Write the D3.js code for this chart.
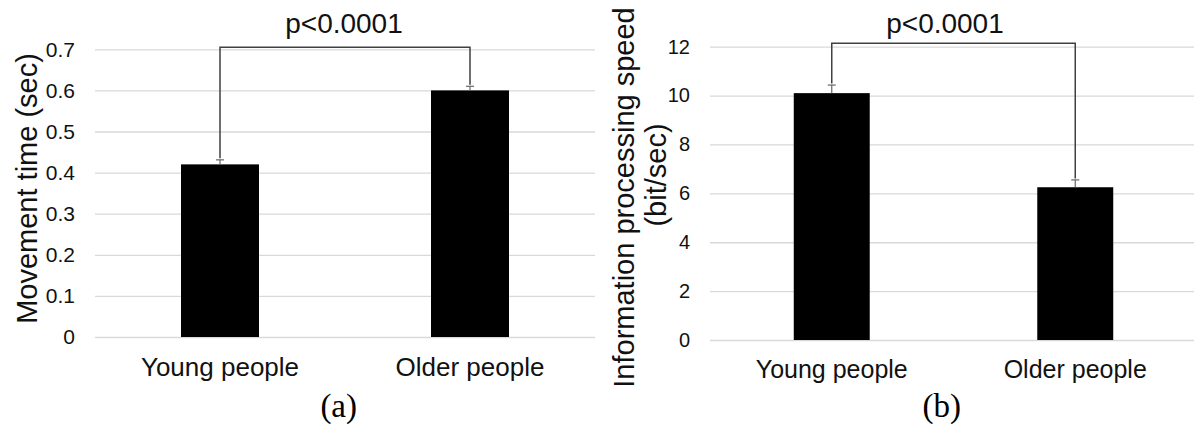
<!DOCTYPE html>
<html>
<head>
<meta charset="utf-8">
<script src="https://cdn.jsdelivr.net/npm/d3@7/dist/d3.min.js"></script>
<style>
  html, body { margin: 0; padding: 0; background: #fff; }
  svg { display: block; }
</style>
</head>
<body>
<svg id="chart" width="1194" height="433"></svg>
<script>
// Group labels shared by both panels
const categories = ["Young people", "Older people"];

// Panel (a): movement time, mean and upper error (sec)
const movementTime = [0.42, 0.60];
const movementTimeErr = [0.011, 0.010];
const movementTicks = [0, 0.1, 0.2, 0.3, 0.4, 0.5, 0.6, 0.7];
const movementTickLabels = ["0", "0.1", "0.2", "0.3", "0.4", "0.5", "0.6", "0.7"];

// Panel (b): information processing speed, mean and upper error (bit/sec)
const speedValues = [10.1, 6.25];
const speedErr = [0.33, 0.30];
const speedTicks = [0, 2, 4, 6, 8, 10, 12];
const speedTickLabels = ["0", "2", "4", "6", "8", "10", "12"];

const pLabel = "p<0.0001";
const captions = ["(a)", "(b)"];

const SANS = "'Liberation Sans', Arial, sans-serif";
const SERIF = "'Liberation Serif', 'Times New Roman', serif";

const svg = d3.select("#chart");

function drawPanel(cfg) {
  const g = svg.append("g");

  const x = d3.scaleBand().domain(categories).range([cfg.left, cfg.right]).padding(0);
  const y = d3.scaleLinear().domain(cfg.domain).range([cfg.bottom, cfg.top]);
  const barW = x.bandwidth() * 0.312;
  const cx = c => x(c) + x.bandwidth() / 2;

  // Value axis with horizontal gridlines
  const yAxis = d3.axisLeft(y)
    .tickValues(cfg.ticks)
    .tickFormat((d, i) => cfg.tickLabels[i])
    .tickSize(-(cfg.right - cfg.left))
    .tickPadding(cfg.tickPad);
  const ya = g.append("g")
    .attr("transform", `translate(${cfg.left},0)`)
    .call(yAxis);
  ya.select(".domain").remove();
  ya.selectAll(".tick line").attr("stroke", "#d9d9d9").attr("stroke-width", 1.3);
  ya.selectAll(".tick text")
    .attr("fill", "#111")
    .style("font-family", SANS)
    .style("font-size", cfg.tickFont + "px");

  // Category axis
  const xAxis = d3.axisBottom(x).tickSize(0).tickPadding(cfg.catPad);
  const xa = g.append("g")
    .attr("transform", `translate(0,${cfg.bottom})`)
    .call(xAxis);
  xa.select(".domain").remove();
  xa.selectAll(".tick text")
    .attr("fill", "#111")
    .style("font-family", SANS)
    .style("font-size", cfg.catFont + "px");

  // Bars
  g.selectAll("rect.bar")
    .data(cfg.values)
    .join("rect")
    .attr("class", "bar")
    .attr("x", (d, i) => cx(categories[i]) - barW / 2)
    .attr("width", barW)
    .attr("y", d => y(d))
    .attr("height", d => y(0) - y(d))
    .attr("fill", "#000");

  // Upper error bars
  const errTop = cfg.values.map((v, i) => v + cfg.errors[i]);
  const eb = g.selectAll("g.err")
    .data(cfg.values)
    .join("g")
    .attr("class", "err");
  eb.append("line")
    .attr("x1", (d, i) => cx(categories[i]))
    .attr("x2", (d, i) => cx(categories[i]))
    .attr("y1", d => y(d))
    .attr("y2", (d, i) => y(errTop[i]))
    .attr("stroke", "#666").attr("stroke-width", 1.2);
  eb.append("line")
    .attr("x1", (d, i) => cx(categories[i]) - 4)
    .attr("x2", (d, i) => cx(categories[i]) + 4)
    .attr("y1", (d, i) => y(errTop[i]))
    .attr("y2", (d, i) => y(errTop[i]))
    .attr("stroke", "#666").attr("stroke-width", 1.2);

  // Significance bracket joining the two error caps
  const bx0 = cx(categories[0]), bx1 = cx(categories[1]);
  const bracket = d3.path();
  bracket.moveTo(bx0, y(errTop[0]) - 1.5);
  bracket.lineTo(bx0, cfg.bracketY);
  bracket.lineTo(bx1, cfg.bracketY);
  bracket.lineTo(bx1, y(errTop[1]) - 1.5);
  g.append("path")
    .attr("d", bracket.toString())
    .attr("fill", "none")
    .attr("stroke", "#404040")
    .attr("stroke-width", 1.5);

  g.append("text")
    .attr("x", cfg.pX)
    .attr("y", 33)
    .attr("text-anchor", "middle")
    .attr("fill", "#111")
    .style("font-family", SANS)
    .style("font-size", "28px")
    .text(pLabel);

  // Axis title (one or more lines)
  cfg.titleLines.forEach(t => {
    g.append("text")
      .attr("transform", `translate(${t.x},${t.y}) rotate(-90)`)
      .attr("text-anchor", "middle")
      .attr("fill", "#111")
      .style("font-family", SANS)
      .style("font-size", "29px")
      .text(t.text);
  });

  // Panel caption
  g.append("text")
    .attr("x", cfg.capX)
    .attr("y", 417)
    .attr("text-anchor", "middle")
    .attr("fill", "#000")
    .style("font-family", SERIF)
    .style("font-size", "33px")
    .text(cfg.caption);
}

drawPanel({
  id: "a",
  left: 95, right: 595, top: 49.3, bottom: 337,
  domain: [0, 0.7],
  ticks: movementTicks, tickLabels: movementTickLabels,
  tickFont: 21, tickPad: 20,
  catFont: 26, catPad: 21,
  values: movementTime, errors: movementTimeErr,
  bracketY: 47.3, pX: 344,
  titleLines: [{ text: "Movement time (sec)", x: 36.5, y: 188.5 }],
  caption: captions[0], capX: 338.7
});

drawPanel({
  id: "b",
  left: 710, right: 1197, top: 46.7, bottom: 340,
  domain: [0, 12],
  ticks: speedTicks, tickLabels: speedTickLabels,
  tickFont: 20, tickPad: 20,
  catFont: 25, catPad: 20,
  values: speedValues, errors: speedErr,
  bracketY: 43.3, pX: 945,
  titleLines: [
    { text: "Information processing speed", x: 634, y: 197.5 },
    { text: "(bit/sec)", x: 666, y: 175 }
  ],
  caption: captions[1], capX: 941.8
});
</script>
</body>
</html>
